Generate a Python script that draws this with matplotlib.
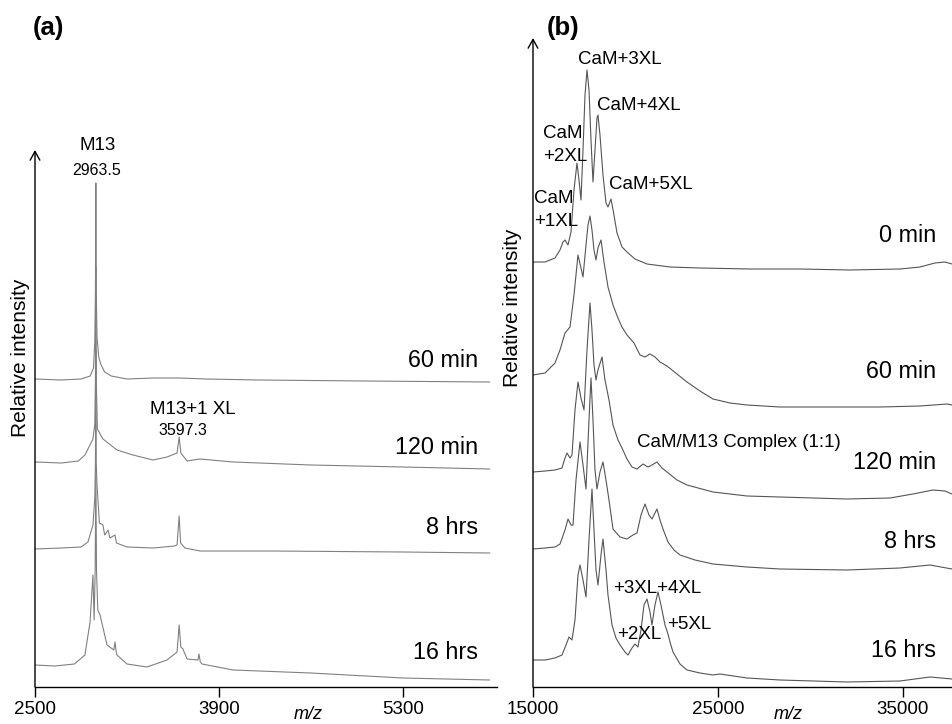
import matplotlib
matplotlib.use("Agg")
import matplotlib.pyplot as plt
import numpy as np

plt.rcParams['font.family'] = ['Liberation Sans', 'DejaVu Sans']

# ---------------- panel (a): M13 peptide, m/z 2500-6000 ----------------
a_labels = ['60 min', '120 min', '8 hrs', '16 hrs']
a_offsets = [305, 218, 134, 7]

a_mz_60 = [2500, 2700, 2850, 2920, 2945, 2955, 2960, 2963, 2966, 2972, 2985, 3000,
           3030, 3080, 3200, 3400, 3600, 3800, 4200, 5000, 5960]
a_int_60 = [3, 2, 3, 6, 14, 40, 90, 199, 90, 45, 25, 18, 10, 6, 3, 4, 4, 3, 2, 1, 0]

a_mz_120 = [2500, 2700, 2830, 2880, 2941, 2955, 2960, 2963, 2966, 2975, 3017, 3124,
            3246, 3398, 3505, 3581, 3597, 3610, 3657, 3756, 4007, 4600, 5300, 5960]
a_int_120 = [7, 6, 8, 14, 30, 45, 90, 202, 90, 40, 30, 19, 14, 9, 12, 16, 32, 16, 8,
             10, 7, 4, 2, 0]

a_mz_8h = [2500, 2700, 2850, 2903, 2941, 2955, 2960, 2963, 2966, 2972, 2990, 3017,
           3030, 3056, 3070, 3109, 3120, 3200, 3400, 3560, 3581, 3597, 3608, 3641,
           3756, 4300, 5300, 5960]
a_int_8h = [4, 5, 6, 11, 28, 55, 90, 203, 90, 68, 30, 28, 18, 23, 15, 18, 10, 6, 5,
            7, 8, 37, 10, 5, 2, 2, 1, 0]

a_mz_16h = [2500, 2650, 2800, 2880, 2919, 2941, 2950, 2958, 2963, 2968, 2978, 2995,
            3048, 3100, 3109, 3118, 3124, 3200, 3352, 3505, 3581, 3597, 3610, 3626,
            3657, 3740, 3748, 3758, 3771, 4007, 4600, 5300, 5960]
a_int_16h = [15, 14, 16, 25, 58, 105, 60, 110, 212, 110, 70, 65, 35, 30, 38, 28, 25,
             16, 13, 20, 28, 55, 33, 31, 21, 20, 26, 18, 16, 10, 7, 2, 0]

a_mz = [a_mz_60, a_mz_120, a_mz_8h, a_mz_16h]
a_int = [a_int_60, a_int_120, a_int_8h, a_int_16h]

# ---------------- panel (b): calmodulin, m/z 15000-37650 ----------------
b_labels = ['0 min', '60 min', '120 min', '8 hrs', '16 hrs']
b_offsets = [418, 280, 188, 117, 5]

b_mz_0 = [15000, 15649, 16189, 16459, 16621, 16730, 16892, 17054, 17216, 17378,
          17486, 17594, 17703, 17811, 17919, 18027, 18135, 18243, 18351, 18459,
          18513, 18621, 18784, 18946, 19054, 19216, 19378, 19540, 19811, 20081,
          20513, 21162, 22405, 24027, 26730, 29432, 32135, 34838, 35919, 36730,
          37270, 37650]
b_int_0 = [7, 7, 11, 19, 27, 29, 24, 37, 79, 106, 89, 69, 119, 174, 199, 179, 129,
           87, 119, 151, 154, 134, 94, 66, 62, 70, 54, 36, 22, 17, 10, 5, 2, 1, 0,
           0, -1, 0, 2, 6, 7, 5]

b_mz_60 = [15000, 15649, 16189, 16459, 16730, 17000, 17216, 17432, 17594, 17703,
           17865, 17973, 18081, 18189, 18297, 18405, 18513, 18675, 18838, 19054,
           19324, 19594, 19811, 20081, 20459, 20784, 21054, 21324, 21594, 21865,
           22243, 22784, 23324, 24027, 24729, 25648, 26567, 28351, 30135, 33756,
           35919, 37378, 37650]
b_int_60 = [32, 34, 44, 57, 74, 80, 112, 152, 139, 130, 162, 182, 191, 177, 157,
            147, 159, 167, 145, 120, 102, 89, 80, 72, 64, 52, 50, 53, 50, 45, 41,
            33, 25, 16, 8, 4, 2, 0, 0, 0, 1, 3, 2]

b_mz_120 = [15000, 15649, 16189, 16567, 16730, 16838, 17000, 17108, 17270, 17432,
            17594, 17757, 17919, 18081, 18189, 18297, 18405, 18513, 18730, 18892,
            19108, 19324, 19594, 19811, 20081, 20351, 20621, 20946, 21216, 21432,
            21702, 21973, 22243, 22784, 23324, 24729, 26567, 28351, 31972, 34297,
            35540, 36620, 37270, 37650]
b_int_120 = [27, 28, 29, 31, 41, 46, 41, 44, 89, 117, 101, 89, 149, 196, 169, 134,
             119, 129, 142, 119, 99, 74, 59, 51, 40, 32, 30, 35, 32, 34, 37, 31, 27,
             19, 14, 7, 3, 2, 0, 1, 5, 9, 8, 5]

b_mz_8h = [15000, 15649, 16189, 16459, 16730, 16892, 17054, 17162, 17324, 17540,
           17703, 17865, 18027, 18135, 18243, 18351, 18459, 18621, 18784, 18946,
           19108, 19324, 19703, 20081, 20405, 20621, 20838, 21054, 21270, 21432,
           21702, 21865, 22027, 22297, 22621, 22946, 23757, 24729, 26567, 28351,
           31972, 34838, 36459, 37650]
b_int_8h = [21, 22, 23, 26, 40, 51, 45, 45, 90, 128, 105, 81, 150, 192, 150, 100,
            81, 98, 108, 90, 70, 41, 33, 31, 35, 37, 55, 66, 55, 51, 61, 50, 41, 28,
            20, 15, 10, 6, 3, 1, 0, 2, 5, 1]

b_mz_16h = [15000, 15649, 16189, 16567, 16784, 16946, 17108, 17270, 17432, 17540,
            17703, 17865, 18027, 18189, 18297, 18405, 18513, 18675, 18784, 18946,
            19054, 19270, 19486, 19703, 19973, 20135, 20351, 20513, 20675, 20838,
            21000, 21162, 21324, 21432, 21594, 21756, 21919, 22135, 22297, 22405,
            22567, 22946, 23324, 24027, 24729, 25108, 26567, 28351, 31972, 34838,
            36459, 37650]
b_int_16h = [22, 22, 24, 27, 37, 45, 42, 62, 107, 117, 102, 85, 142, 193, 152, 112,
             97, 127, 143, 112, 87, 57, 44, 37, 30, 27, 34, 38, 35, 52, 77, 83, 70,
             57, 77, 90, 77, 57, 48, 40, 30, 18, 12, 9, 7, 8, 4, 2, 0, 1, 5, 3]

b_mz = [b_mz_0, b_mz_60, b_mz_120, b_mz_8h, b_mz_16h]
b_int = [b_int_0, b_int_60, b_int_120, b_int_8h, b_int_16h]

W, H = 952, 724
fig = plt.figure(figsize=(W / 100, H / 100), dpi=100)

# axes placed in pixel units; y data = pixels above the x axis
ax_a = fig.add_axes([35 / W, 37 / H, 462 / W, 667 / H])
ax_b = fig.add_axes([533 / W, 37 / H, 419 / W, 667 / H])

for ax in (ax_a, ax_b):
    ax.set_ylim(0, 667)
    for s in ('top', 'right', 'left'):
        ax.spines[s].set_visible(False)
    ax.spines['bottom'].set_linewidth(1.0)
    ax.set_yticks([])
    ax.tick_params(axis='x', direction='out', length=7, width=1, pad=3,
                   labelsize=13.5)
    ax.patch.set_alpha(0)

ax_a.set_xlim(2500, 6016)
ax_a.set_xticks([2500, 3900, 5300])
ax_b.set_xlim(15000, 37650)
ax_b.set_xticks([15000, 25000, 35000])

# traces
for mz, inten, off in zip(a_mz, a_int, a_offsets):
    ax_a.plot(mz, np.array(inten) + off, color='#808080', lw=0.8)
for mz, inten, off in zip(b_mz, b_int, b_offsets):
    ax_b.plot(mz, np.array(inten) + off, color='#555555', lw=0.8)

# y axis arrows
arrow = dict(arrowstyle='->,head_length=0.45,head_width=0.25', lw=1,
             color='black', shrinkA=0, shrinkB=0, mutation_scale=14)
ax_a.annotate('', xy=(2500, 537), xytext=(2500, 0), arrowprops=arrow,
              annotation_clip=False)
ax_b.annotate('', xy=(15000, 649), xytext=(15000, 0), arrowprops=arrow,
              annotation_clip=False)

# time labels
a_label_y = [320, 233, 153, 28]
for lab, y in zip(a_labels, a_label_y):
    ax_a.text(5871, y, lab, ha='right', va='baseline', fontsize=16.8)
b_label_y = [445, 309, 218, 139, 30]
for lab, y in zip(b_labels, b_label_y):
    ax_b.text(36782, y, lab, ha='right', va='baseline', fontsize=16.8)

# peak annotations (a)
ax_a.text(2979, 537, 'M13', ha='center', va='baseline', fontsize=13.5)
ax_a.text(2972, 512, '2963.5', ha='center', va='baseline', fontsize=11.5)
ax_a.text(3702, 273, 'M13+1 XL', ha='center', va='baseline', fontsize=13.5)
ax_a.text(3626, 252, '3597.3', ha='center', va='baseline', fontsize=11.5)

# peak annotations (b)
fs = 13.5
ax_b.text(19703, 623, 'CaM+3XL', ha='center', va='baseline', fontsize=fs)
ax_b.text(18459, 577, 'CaM+4XL', ha='left', va='baseline', fontsize=fs)
ax_b.text(15541, 549, 'CaM', ha='left', va='baseline', fontsize=fs)
ax_b.text(15541, 526, '+2XL', ha='left', va='baseline', fontsize=fs)
ax_b.text(15054, 484, 'CaM', ha='left', va='baseline', fontsize=fs)
ax_b.text(15054, 461, '+1XL', ha='left', va='baseline', fontsize=fs)
ax_b.text(19108, 498, 'CaM+5XL', ha='left', va='baseline', fontsize=fs)
ax_b.text(20621, 240, 'CaM/M13 Complex (1:1)', ha='left', va='baseline', fontsize=fs)
ax_b.text(19324, 94, '+3XL+4XL', ha='left', va='baseline', fontsize=fs)
ax_b.text(19540, 48, '+2XL', ha='left', va='baseline', fontsize=fs)
ax_b.text(22243, 58, '+5XL', ha='left', va='baseline', fontsize=fs)

# axis titles and panel letters (figure pixel positions)
def fx(x):
    return x / W

def fy(y):
    return 1 - y / H

fig.text(fx(21), fy(358), 'Relative intensity', rotation=90, ha='center',
         va='center', fontsize=15)
fig.text(fx(513), fy(308), 'Relative intensity', rotation=90, ha='center',
         va='center', fontsize=15)
fig.text(fx(308), fy(723), 'm/z', style='italic', ha='center', va='bottom',
         fontsize=13)
fig.text(fx(788), fy(723), 'm/z', style='italic', ha='center', va='bottom',
         fontsize=13)
fig.text(fx(48), fy(28), '(a)', fontweight='bold', ha='center', va='center',
         fontsize=18.5)
fig.text(fx(563), fy(28), '(b)', fontweight='bold', ha='center', va='center',
         fontsize=18.5)

fig.savefig('out.png', dpi=100)
